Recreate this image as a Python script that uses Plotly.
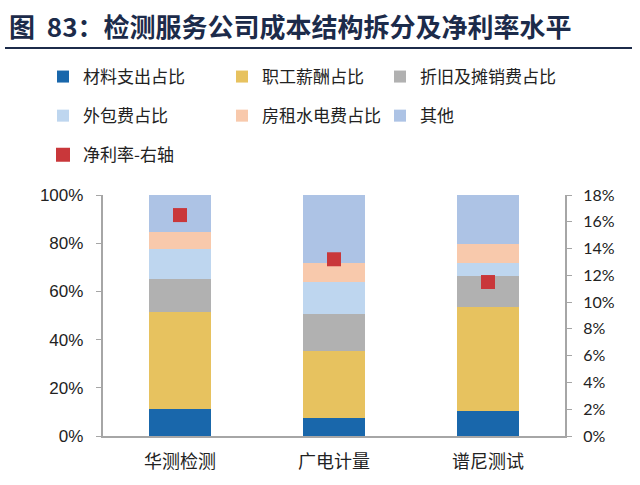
import plotly.graph_objects as go

companies = ["华测检测", "广电计量", "谱尼测试"]
material = [11.3, 7.3, 10.4]
salary = [40.0, 28.1, 43.0]
depreciation = [13.7, 15.1, 13.0]
outsourcing = [12.5, 13.5, 5.3]
rent = [7.3, 7.7, 7.8]
other = [15.2, 28.3, 20.5]
net_margin = [16.5, 13.2, 11.5]
left_ticks = [0, 20, 40, 60, 80, 100]
right_ticks = [0, 2, 4, 6, 8, 10, 12, 14, 16, 18]

series = [
    ("材料支出占比", material, "#1967ab", "legend"),
    ("职工薪酬占比", salary, "#e7c25f", "legend2"),
    ("折旧及摊销费占比", depreciation, "#b1b1b1", "legend3"),
    ("外包费占比", outsourcing, "#bed6ef", "legend"),
    ("房租水电费占比", rent, "#f8c9ac", "legend2"),
    ("其他", other, "#adc3e5", "legend3"),
]

cjk = "Noto Sans CJK SC"
NB = "\u00a0"
fig = go.Figure()
for name, vals, color, lg in series:
    fig.add_trace(go.Bar(
        x=companies, y=vals, name=name, marker=dict(color=color, line=dict(width=0)),
        width=0.4, legend=lg, legendgroup=name,
    ))

fig.add_trace(go.Scatter(
    x=companies, y=net_margin, name="净利率-右轴", mode="markers", yaxis="y2",
    marker=dict(symbol="square", size=14, color="#c9373a"),
    legend="legend", legendgroup="net",
))

leg_font = dict(family=cjk, size=17, color="#222222")
def legend_cfg(xpx):
    return dict(
        xref="container", yref="container", x=xpx / 640, y=1 - 59 / 485,
        xanchor="left", yanchor="top", orientation="v", traceorder="grouped",
        tracegroupgap=14, font=leg_font, bgcolor="rgba(0,0,0,0)",
    )

fig.update_layout(
    width=640, height=485,
    margin=dict(l=103, r=75, t=195, b=49, autoexpand=False),
    paper_bgcolor="white", plot_bgcolor="white",
    barmode="stack",
    showlegend=True,
    legend=legend_cfg(43),
    legend2=legend_cfg(222),
    legend3=legend_cfg(380),
    title=dict(
        text="<b>图  83：检测服务公司成本结构拆分及净利率水平</b>",
        xref="container", yref="container", x=9 / 640, y=1 - 28 / 485,
        xanchor="left", yanchor="middle",
        font=dict(family=cjk, size=26, color="#1c2b4a"),
    ),
    xaxis=dict(
        showline=True, linecolor="#a6a6a6", linewidth=1.5,
        ticks="outside", ticklen=9, tickcolor="rgba(0,0,0,0)",
        tickfont=dict(family=cjk, size=18, color="#222222"),
        showgrid=False, automargin=False,
    ),
    yaxis=dict(
        range=[0, 100], tickvals=left_ticks,
        ticktext=[f"{v}%{NB}{NB}" for v in left_ticks],
        showline=True, linecolor="#a6a6a6", linewidth=1.5, ticks="outside",
        ticklen=5, tickcolor="#a6a6a6", showgrid=False, zeroline=False,
        tickfont=dict(family="Liberation Sans, Arial", size=17, color="#222222"),
        automargin=False,
    ),
    yaxis2=dict(
        overlaying="y", side="right", range=[0, 18],
        tickvals=right_ticks,
        ticktext=[f"{NB}{NB}{v}%" for v in right_ticks],
        showline=True, linecolor="#a6a6a6", linewidth=1.5, ticks="outside",
        ticklen=5, tickcolor="#a6a6a6", showgrid=False, zeroline=False,
        tickfont=dict(family="Lato, sans-serif", size=16, color="#222222"),
        automargin=False,
    ),
    shapes=[dict(
        type="line", xref="paper", yref="paper", layer="above",
        x0=-98 / 462, x1=(632 - 103) / 462, y0=(436 - 48) / 241, y1=(436 - 48) / 241,
        line=dict(color="#1c2b4a", width=2),
    )],
)

fig.write_html(
    "out.html",
    config={"displayModeBar": False},
    post_script="document.body.style.margin='0px';",
)
